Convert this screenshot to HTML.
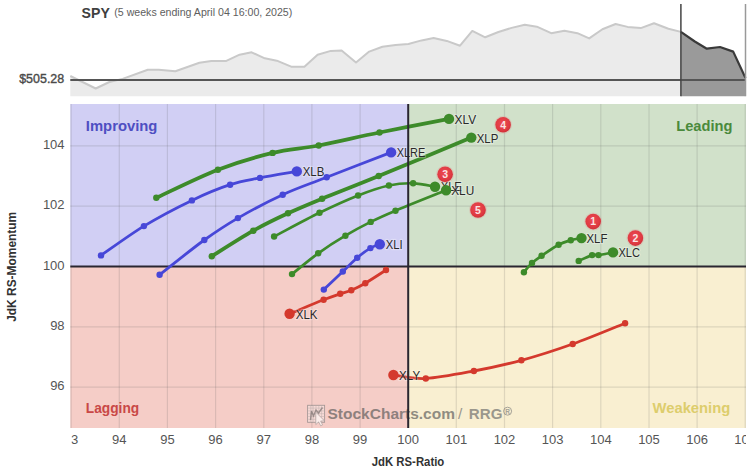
<!DOCTYPE html><html><head><meta charset="utf-8"><style>html,body{margin:0;padding:0;background:#fff;}svg{display:block;}text{font-family:"Liberation Sans",sans-serif;}</style></head><body>
<svg width="750" height="470" viewBox="0 0 750 470">
<defs><radialGradient id="bg" cx="0.45" cy="0.4" r="0.6"><stop offset="0" stop-color="#ec4a52"/><stop offset="0.75" stop-color="#df3a42"/><stop offset="1" stop-color="#cf3038"/></radialGradient></defs>
<rect width="750" height="470" fill="#fff"/>
<text x="81.6" y="17.7" font-size="15" font-weight="bold" fill="#404040" textLength="28.2" lengthAdjust="spacingAndGlyphs">SPY</text>
<text x="114.3" y="15.8" font-size="11" fill="#5e5e5e" textLength="178" lengthAdjust="spacingAndGlyphs">(5 weeks ending April 04 16:00, 2025)</text>
<polygon points="70.3,76.0 95.7,88.5 109.4,82.0 122.6,78.9 147.8,69.8 158.6,69.8 175.4,71.2 199.4,62.8 211.4,60.9 225.8,61.1 239.6,54.7 251.6,52.3 264.8,58.3 276.8,60.7 291.2,66.7 304.4,66.7 317.6,54.7 330.8,50.9 341.6,50.4 356.0,62.4 369.2,51.6 382.4,46.8 395.6,44.9 408.4,44.0 421.6,40.4 433.6,38.0 446.8,40.9 460.0,45.7 472.3,30.9 485.2,37.3 498.4,32.0 511.6,27.9 524.8,24.8 536.8,26.7 551.2,33.2 564.4,30.8 577.4,33.2 589.2,38.4 602.4,29.3 615.6,24.0 627.6,26.9 640.8,28.1 654.0,23.3 668.4,28.8 680.9,31.9 680.9,96.2 70.3,96.2" fill="#ebebeb"/>
<polygon points="680.9,31.9 694.8,41.5 706.8,48.7 720.0,47.0 733.2,51.6 745.5,78.0 745.5,96.2 680.9,96.2" fill="#9a9a9a"/>
<polyline points="70.3,76.0 95.7,88.5 109.4,82.0 122.6,78.9 147.8,69.8 158.6,69.8 175.4,71.2 199.4,62.8 211.4,60.9 225.8,61.1 239.6,54.7 251.6,52.3 264.8,58.3 276.8,60.7 291.2,66.7 304.4,66.7 317.6,54.7 330.8,50.9 341.6,50.4 356.0,62.4 369.2,51.6 382.4,46.8 395.6,44.9 408.4,44.0 421.6,40.4 433.6,38.0 446.8,40.9 460.0,45.7 472.3,30.9 485.2,37.3 498.4,32.0 511.6,27.9 524.8,24.8 536.8,26.7 551.2,33.2 564.4,30.8 577.4,33.2 589.2,38.4 602.4,29.3 615.6,24.0 627.6,26.9 640.8,28.1 654.0,23.3 668.4,28.8 680.9,31.9" fill="none" stroke="#c9c9c9" stroke-width="2" stroke-linejoin="round"/>
<polyline points="680.9,31.9 694.8,41.5 706.8,48.7 720.0,47.0 733.2,51.6 745.5,78.0" fill="none" stroke="#3a3a3a" stroke-width="2.2" stroke-linejoin="round"/>
<line x1="70.3" y1="79.9" x2="746" y2="79.9" stroke="#555" stroke-width="2"/>
<line x1="680.9" y1="4" x2="680.9" y2="96.2" stroke="#444" stroke-width="1.5"/>
<line x1="745.5" y1="4" x2="745.5" y2="96.2" stroke="#999" stroke-width="1.5"/>
<text x="64.2" y="82.8" font-size="13" fill="#4a4a4a" stroke="#4a4a4a" stroke-width="0.4" text-anchor="end" textLength="45" lengthAdjust="spacingAndGlyphs">$505.28</text>
<rect x="70.3" y="104.0" width="337.9" height="162.5" fill="#d1cff4"/>
<rect x="408.2" y="104.0" width="337.8" height="162.5" fill="#d1e1ca"/>
<rect x="70.3" y="266.5" width="337.9" height="161.5" fill="#f5cdc7"/>
<rect x="408.2" y="266.5" width="337.8" height="161.5" fill="#f9efd1"/>
<g stroke="rgba(90,90,90,0.17)" stroke-width="1.2"><line x1="71.1" y1="104.0" x2="71.1" y2="428.0"/><line x1="119.3" y1="104.0" x2="119.3" y2="428.0"/><line x1="167.4" y1="104.0" x2="167.4" y2="428.0"/><line x1="215.6" y1="104.0" x2="215.6" y2="428.0"/><line x1="263.8" y1="104.0" x2="263.8" y2="428.0"/><line x1="311.9" y1="104.0" x2="311.9" y2="428.0"/><line x1="360.1" y1="104.0" x2="360.1" y2="428.0"/><line x1="456.3" y1="104.0" x2="456.3" y2="428.0"/><line x1="504.5" y1="104.0" x2="504.5" y2="428.0"/><line x1="552.6" y1="104.0" x2="552.6" y2="428.0"/><line x1="600.8" y1="104.0" x2="600.8" y2="428.0"/><line x1="649.0" y1="104.0" x2="649.0" y2="428.0"/><line x1="697.1" y1="104.0" x2="697.1" y2="428.0"/><line x1="745.2" y1="104.0" x2="745.2" y2="428.0"/><line x1="70.3" y1="145.9" x2="746.0" y2="145.9"/><line x1="70.3" y1="206.2" x2="746.0" y2="206.2"/><line x1="70.3" y1="326.8" x2="746.0" y2="326.8"/><line x1="70.3" y1="387.1" x2="746.0" y2="387.1"/></g>
<text x="85.8" y="131.2" font-size="15" font-weight="bold" fill="#4e4ec2" textLength="71.6" lengthAdjust="spacingAndGlyphs">Improving</text>
<text x="676.2" y="131.2" font-size="15" font-weight="bold" fill="#4a8a3c" textLength="56.2" lengthAdjust="spacingAndGlyphs">Leading</text>
<text x="85.8" y="412.8" font-size="15" font-weight="bold" fill="#c94846" textLength="53.4" lengthAdjust="spacingAndGlyphs">Lagging</text>
<text x="652.6" y="413" font-size="15" font-weight="bold" fill="#ddcd6c" textLength="77.6" lengthAdjust="spacingAndGlyphs">Weakening</text>
<g opacity="0.64">
<rect x="307.6" y="405.3" width="17" height="17" fill="rgba(255,255,255,0.45)" stroke="#7a7a7a" stroke-width="0.9"/>
<path d="M310.4,405.3V422.3M313.2,405.3V422.3M316,405.3V422.3M318.8,405.3V422.3M321.6,405.3V422.3M307.6,408.1H324.6M307.6,410.9H324.6M307.6,413.7H324.6M307.6,416.5H324.6M307.6,419.3H324.6" stroke="#9a9a9a" stroke-width="0.45"/>
<path d="M310.5,420 L311.5,411 L313.5,416 L316,410 L318.5,413 L322.5,407.5" fill="none" stroke="#6a6a6a" stroke-width="1.4"/>
<path d="M315.8,412.2 L315.8,424.6 L318.6,421.9 L320.7,425.8 L322.6,424.9 L320.6,421.1 L324.4,420.8 Z" fill="#fff" stroke="#8a8a8a" stroke-width="0.7"/>
<text x="327.5" y="419.4" font-size="15.5" font-weight="bold" fill="#555" textLength="127.5" lengthAdjust="spacingAndGlyphs">StockCharts.com</text>
<text x="458" y="419.4" font-size="15.5" fill="#666">/</text>
<text x="468.8" y="419.4" font-size="15.5" font-weight="bold" fill="#666" textLength="33.6" lengthAdjust="spacingAndGlyphs">RRG</text>
<circle cx="507.6" cy="411.2" r="4" fill="none" stroke="#777" stroke-width="1"/>
<text x="507.6" y="413.6" font-size="6.5" font-weight="bold" fill="#777" text-anchor="middle">R</text>
</g>
<defs><clipPath id="cx"><rect x="71.3" y="0" width="674.7" height="470"/></clipPath></defs>
<g clip-path="url(#cx)">
<text x="71.1" y="444.3" font-size="13" fill="#555" text-anchor="middle">93</text>
<text x="119.3" y="444.3" font-size="13" fill="#555" text-anchor="middle">94</text>
<text x="167.4" y="444.3" font-size="13" fill="#555" text-anchor="middle">95</text>
<text x="215.6" y="444.3" font-size="13" fill="#555" text-anchor="middle">96</text>
<text x="263.8" y="444.3" font-size="13" fill="#555" text-anchor="middle">97</text>
<text x="311.9" y="444.3" font-size="13" fill="#555" text-anchor="middle">98</text>
<text x="360.1" y="444.3" font-size="13" fill="#555" text-anchor="middle">99</text>
<text x="408.2" y="444.3" font-size="13" fill="#555" text-anchor="middle">100</text>
<text x="456.3" y="444.3" font-size="13" fill="#555" text-anchor="middle">101</text>
<text x="504.5" y="444.3" font-size="13" fill="#555" text-anchor="middle">102</text>
<text x="552.6" y="444.3" font-size="13" fill="#555" text-anchor="middle">103</text>
<text x="600.8" y="444.3" font-size="13" fill="#555" text-anchor="middle">104</text>
<text x="649.0" y="444.3" font-size="13" fill="#555" text-anchor="middle">105</text>
<text x="697.1" y="444.3" font-size="13" fill="#555" text-anchor="middle">106</text>
<text x="745.2" y="444.3" font-size="13" fill="#555" text-anchor="middle">107</text>
</g>
<text x="64.6" y="149.1" font-size="13" fill="#555" text-anchor="end">104</text>
<text x="64.6" y="209.4" font-size="13" fill="#555" text-anchor="end">102</text>
<text x="64.6" y="269.7" font-size="13" fill="#555" text-anchor="end">100</text>
<text x="64.6" y="330.0" font-size="13" fill="#555" text-anchor="end">98</text>
<text x="64.6" y="390.3" font-size="13" fill="#555" text-anchor="end">96</text>
<text x="408" y="466.4" font-size="13" font-weight="bold" fill="#333" text-anchor="middle" textLength="72.5" lengthAdjust="spacingAndGlyphs">JdK RS-Ratio</text>
<text transform="translate(16,266.8) rotate(-90)" font-size="12.5" font-weight="bold" fill="#333" text-anchor="middle" textLength="110" lengthAdjust="spacingAndGlyphs">JdK RS-Momentum</text>
<line x1="70.3" y1="266.5" x2="746.0" y2="266.5" stroke="#2a2630" stroke-width="2"/>
<path d="M101.0,255.4 C108.2,250.5 128.8,235.3 143.9,226.1 C159.1,216.9 177.5,207.3 191.9,200.4 C206.3,193.5 218.8,188.4 230.1,184.7 C241.4,180.9 248.9,180.1 260.0,177.9 C271.1,175.7 290.7,172.5 296.8,171.4" fill="none" stroke="#4747d8" stroke-width="2.8" stroke-linecap="round" stroke-linejoin="round"/>
<circle cx="101" cy="255.4" r="3.2" fill="#4747d8"/>
<circle cx="143.9" cy="226.1" r="3.2" fill="#4747d8"/>
<circle cx="191.9" cy="200.4" r="3.2" fill="#4747d8"/>
<circle cx="230.1" cy="184.7" r="3.2" fill="#4747d8"/>
<circle cx="260" cy="177.9" r="3.2" fill="#4747d8"/>
<circle cx="296.8" cy="171.4" r="5.2" fill="#4747d8"/>
<text x="302.7" y="175.9" font-size="12.6" fill="#2a2a2a" stroke="rgba(255,255,255,0.28)" stroke-width="2.4" stroke-linejoin="round" paint-order="stroke" textLength="21.6" lengthAdjust="spacingAndGlyphs">XLB</text>
<path d="M578.7,260.9 C580.9,259.9 588.8,256.1 592.1,255.1 C595.4,254.1 595.0,255.5 598.5,255.1 C602.0,254.7 610.6,252.8 613.0,252.4" fill="none" stroke="#3d8b2a" stroke-width="2.7" stroke-linecap="round" stroke-linejoin="round"/>
<circle cx="578.7" cy="260.9" r="3.2" fill="#3d8b2a"/>
<circle cx="592.1" cy="255.1" r="3.2" fill="#3d8b2a"/>
<circle cx="598.5" cy="255.1" r="3.2" fill="#3d8b2a"/>
<circle cx="613" cy="252.4" r="5.2" fill="#3d8b2a"/>
<text x="618.5" y="257.1" font-size="12.6" fill="#2a2a2a" stroke="rgba(255,255,255,0.28)" stroke-width="2.4" stroke-linejoin="round" paint-order="stroke" textLength="21.5" lengthAdjust="spacingAndGlyphs">XLC</text>
<path d="M274.1,236.5 C281.7,232.6 305.5,219.6 319.5,212.8 C333.5,206.0 346.5,200.1 358.1,195.5 C369.7,190.9 379.7,187.5 388.9,185.5 C398.1,183.5 405.4,183.1 413.1,183.3 C420.8,183.5 431.4,186.1 435.0,186.7" fill="none" stroke="#3d8b2a" stroke-width="2.7" stroke-linecap="round" stroke-linejoin="round"/>
<circle cx="274.1" cy="236.5" r="3.2" fill="#3d8b2a"/>
<circle cx="319.5" cy="212.8" r="3.2" fill="#3d8b2a"/>
<circle cx="358.1" cy="195.5" r="3.2" fill="#3d8b2a"/>
<circle cx="388.9" cy="185.5" r="3.2" fill="#3d8b2a"/>
<circle cx="413.1" cy="183.3" r="3.2" fill="#3d8b2a"/>
<circle cx="435" cy="186.7" r="5.2" fill="#3d8b2a"/>
<text x="440.7" y="191.2" font-size="12.6" fill="#2a2a2a" stroke="rgba(255,255,255,0.28)" stroke-width="2.4" stroke-linejoin="round" paint-order="stroke" textLength="21.1" lengthAdjust="spacingAndGlyphs">XLE</text>
<path d="M523.9,272.2 C525.2,270.7 529.0,265.7 532.0,263.0 C535.0,260.3 537.2,258.9 541.6,255.8 C546.0,252.8 553.7,247.3 558.6,244.7 C563.5,242.1 567.0,241.3 570.8,240.2 C574.6,239.1 579.7,238.4 581.5,238.1" fill="none" stroke="#3d8b2a" stroke-width="2.7" stroke-linecap="round" stroke-linejoin="round"/>
<circle cx="523.9" cy="272.2" r="3.2" fill="#3d8b2a"/>
<circle cx="532" cy="263" r="3.2" fill="#3d8b2a"/>
<circle cx="541.6" cy="255.8" r="3.2" fill="#3d8b2a"/>
<circle cx="558.6" cy="244.7" r="3.2" fill="#3d8b2a"/>
<circle cx="570.8" cy="240.2" r="3.2" fill="#3d8b2a"/>
<circle cx="581.5" cy="238.1" r="5.2" fill="#3d8b2a"/>
<text x="586.5" y="242.8" font-size="12.6" fill="#2a2a2a" stroke="rgba(255,255,255,0.28)" stroke-width="2.4" stroke-linejoin="round" paint-order="stroke" textLength="20.9" lengthAdjust="spacingAndGlyphs">XLF</text>
<path d="M323.8,289.6 C327.0,286.6 337.2,276.8 342.8,271.5 C348.4,266.2 352.6,261.6 357.2,257.7 C361.8,253.8 366.6,250.3 370.4,248.1 C374.2,245.9 378.2,244.9 379.8,244.3" fill="none" stroke="#4747d8" stroke-width="2.8" stroke-linecap="round" stroke-linejoin="round"/>
<circle cx="323.8" cy="289.6" r="3.2" fill="#4747d8"/>
<circle cx="342.8" cy="271.5" r="3.2" fill="#4747d8"/>
<circle cx="357.2" cy="257.7" r="3.2" fill="#4747d8"/>
<circle cx="370.4" cy="248.1" r="3.2" fill="#4747d8"/>
<circle cx="379.8" cy="244.3" r="5.2" fill="#4747d8"/>
<text x="385.7" y="248.8" font-size="12.6" fill="#2a2a2a" stroke="rgba(255,255,255,0.28)" stroke-width="2.4" stroke-linejoin="round" paint-order="stroke" textLength="16.9" lengthAdjust="spacingAndGlyphs">XLI</text>
<path d="M386.0,270.0 C382.6,272.2 371.1,279.8 365.3,283.2 C359.5,286.6 355.5,288.4 351.3,290.2 C347.1,292.0 344.8,292.2 340.2,293.8 C335.6,295.4 332.0,296.5 323.6,299.8 C315.2,303.1 295.3,311.5 289.6,313.8" fill="none" stroke="#d4392d" stroke-width="2.8" stroke-linecap="round" stroke-linejoin="round"/>
<circle cx="386" cy="270" r="3.2" fill="#d4392d"/>
<circle cx="365.3" cy="283.2" r="3.2" fill="#d4392d"/>
<circle cx="351.3" cy="290.2" r="3.2" fill="#d4392d"/>
<circle cx="340.2" cy="293.8" r="3.2" fill="#d4392d"/>
<circle cx="323.6" cy="299.8" r="3.2" fill="#d4392d"/>
<circle cx="289.6" cy="313.8" r="5.2" fill="#d4392d"/>
<text x="295.7" y="318.8" font-size="12.6" fill="#2a2a2a" stroke="rgba(255,255,255,0.28)" stroke-width="2.4" stroke-linejoin="round" paint-order="stroke" textLength="21.9" lengthAdjust="spacingAndGlyphs">XLK</text>
<path d="M211.8,256.3 C218.7,252.0 240.6,237.9 253.3,230.7 C266.0,223.5 276.5,218.6 288.0,213.3 C299.5,208.0 307.0,204.9 322.1,198.7 C337.2,192.5 353.8,186.2 378.7,176.0 C403.6,165.8 455.9,144.0 471.3,137.6" fill="none" stroke="#3d8b2a" stroke-width="3.8" stroke-linecap="round" stroke-linejoin="round"/>
<circle cx="211.8" cy="256.3" r="3.2" fill="#3d8b2a"/>
<circle cx="253.3" cy="230.7" r="3.2" fill="#3d8b2a"/>
<circle cx="288" cy="213.3" r="3.2" fill="#3d8b2a"/>
<circle cx="322.1" cy="198.7" r="3.2" fill="#3d8b2a"/>
<circle cx="378.7" cy="176" r="3.2" fill="#3d8b2a"/>
<circle cx="471.3" cy="137.6" r="5.2" fill="#3d8b2a"/>
<text x="476.7" y="142.7" font-size="12.6" fill="#2a2a2a" stroke="rgba(255,255,255,0.28)" stroke-width="2.4" stroke-linejoin="round" paint-order="stroke" textLength="21.6" lengthAdjust="spacingAndGlyphs">XLP</text>
<path d="M159.6,274.8 C167.1,269.0 191.2,249.4 204.3,240.0 C217.4,230.6 224.8,225.7 237.9,218.1 C251.0,210.5 267.9,201.5 282.7,194.7 C297.5,187.9 308.6,184.4 326.7,177.3 C344.8,170.2 380.4,156.6 391.1,152.4" fill="none" stroke="#4747d8" stroke-width="2.8" stroke-linecap="round" stroke-linejoin="round"/>
<circle cx="159.6" cy="274.8" r="3.2" fill="#4747d8"/>
<circle cx="204.3" cy="240" r="3.2" fill="#4747d8"/>
<circle cx="237.9" cy="218.1" r="3.2" fill="#4747d8"/>
<circle cx="282.7" cy="194.7" r="3.2" fill="#4747d8"/>
<circle cx="326.7" cy="177.3" r="3.2" fill="#4747d8"/>
<circle cx="391.1" cy="152.4" r="5.2" fill="#4747d8"/>
<text x="396.7" y="156.9" font-size="12.6" fill="#2a2a2a" stroke="rgba(255,255,255,0.28)" stroke-width="2.4" stroke-linejoin="round" paint-order="stroke" textLength="28.6" lengthAdjust="spacingAndGlyphs">XLRE</text>
<path d="M292.0,274.1 C296.4,270.6 309.3,259.7 318.2,253.3 C327.1,246.9 336.6,240.9 345.4,235.7 C354.1,230.5 362.3,226.1 370.7,221.9 C379.1,217.7 382.9,216.0 395.5,210.7 C408.1,205.4 437.7,193.7 446.1,190.3" fill="none" stroke="#3d8b2a" stroke-width="2.7" stroke-linecap="round" stroke-linejoin="round"/>
<circle cx="292" cy="274.1" r="3.2" fill="#3d8b2a"/>
<circle cx="318.2" cy="253.3" r="3.2" fill="#3d8b2a"/>
<circle cx="345.4" cy="235.7" r="3.2" fill="#3d8b2a"/>
<circle cx="370.7" cy="221.9" r="3.2" fill="#3d8b2a"/>
<circle cx="395.5" cy="210.7" r="3.2" fill="#3d8b2a"/>
<circle cx="446.1" cy="190.3" r="5.2" fill="#3d8b2a"/>
<text x="451.2" y="195.0" font-size="12.6" fill="#2a2a2a" stroke="rgba(255,255,255,0.28)" stroke-width="2.4" stroke-linejoin="round" paint-order="stroke" textLength="23.0" lengthAdjust="spacingAndGlyphs">XLU</text>
<path d="M156.3,197.8 C166.6,193.1 198.5,177.2 217.9,169.7 C237.3,162.2 255.8,156.9 272.6,152.9 C289.4,148.9 300.9,148.9 318.7,145.5 C336.5,142.1 357.8,136.9 379.5,132.5 C401.2,128.1 437.4,121.2 449.0,118.9" fill="none" stroke="#3d8b2a" stroke-width="3.8" stroke-linecap="round" stroke-linejoin="round"/>
<circle cx="156.3" cy="197.8" r="3.2" fill="#3d8b2a"/>
<circle cx="217.9" cy="169.7" r="3.2" fill="#3d8b2a"/>
<circle cx="272.6" cy="152.9" r="3.2" fill="#3d8b2a"/>
<circle cx="318.7" cy="145.5" r="3.2" fill="#3d8b2a"/>
<circle cx="379.5" cy="132.5" r="3.2" fill="#3d8b2a"/>
<circle cx="449" cy="118.9" r="5.2" fill="#3d8b2a"/>
<text x="454.5" y="123.5" font-size="12.6" fill="#2a2a2a" stroke="rgba(255,255,255,0.28)" stroke-width="2.4" stroke-linejoin="round" paint-order="stroke" textLength="21.6" lengthAdjust="spacingAndGlyphs">XLV</text>
<path d="M625.1,323.2 C616.4,326.7 590.0,337.8 572.7,344.0 C555.4,350.2 537.9,355.8 521.4,360.3 C504.9,364.8 489.8,368.0 473.9,371.0 C458.0,374.0 439.2,377.8 425.8,378.5 C412.4,379.2 398.8,375.6 393.4,375.0" fill="none" stroke="#d4392d" stroke-width="2.8" stroke-linecap="round" stroke-linejoin="round"/>
<circle cx="625.1" cy="323.2" r="3.2" fill="#d4392d"/>
<circle cx="572.7" cy="344" r="3.2" fill="#d4392d"/>
<circle cx="521.4" cy="360.3" r="3.2" fill="#d4392d"/>
<circle cx="473.9" cy="371" r="3.2" fill="#d4392d"/>
<circle cx="425.8" cy="378.5" r="3.2" fill="#d4392d"/>
<circle cx="393.4" cy="375" r="5.2" fill="#d4392d"/>
<text x="399.1" y="379.7" font-size="12.6" fill="#2a2a2a" stroke="rgba(255,255,255,0.28)" stroke-width="2.4" stroke-linejoin="round" paint-order="stroke" textLength="21.0" lengthAdjust="spacingAndGlyphs">XLY</text>
<line x1="408.2" y1="104.0" x2="408.2" y2="428.0" stroke="#2a2630" stroke-width="2"/>
<circle cx="593.2" cy="221.6" r="9" fill="rgba(235,90,100,0.16)"/>
<circle cx="593.2" cy="221.6" r="7.8" fill="url(#bg)"/>
<text x="593.2" y="225.3" font-size="10.5" font-weight="bold" fill="#fbe3e3" text-anchor="middle">1</text>
<circle cx="635.4" cy="238.1" r="9" fill="rgba(235,90,100,0.16)"/>
<circle cx="635.4" cy="238.1" r="7.8" fill="url(#bg)"/>
<text x="635.4" y="241.8" font-size="10.5" font-weight="bold" fill="#fbe3e3" text-anchor="middle">2</text>
<circle cx="445.1" cy="174.3" r="9" fill="rgba(235,90,100,0.16)"/>
<circle cx="445.1" cy="174.3" r="7.8" fill="url(#bg)"/>
<text x="445.1" y="178.0" font-size="10.5" font-weight="bold" fill="#fbe3e3" text-anchor="middle">3</text>
<circle cx="503.1" cy="124.8" r="9" fill="rgba(235,90,100,0.16)"/>
<circle cx="503.1" cy="124.8" r="7.8" fill="url(#bg)"/>
<text x="503.1" y="128.5" font-size="10.5" font-weight="bold" fill="#fbe3e3" text-anchor="middle">4</text>
<circle cx="478" cy="210" r="9" fill="rgba(235,90,100,0.16)"/>
<circle cx="478" cy="210" r="7.8" fill="url(#bg)"/>
<text x="478" y="213.7" font-size="10.5" font-weight="bold" fill="#fbe3e3" text-anchor="middle">5</text>
</svg></body></html>
